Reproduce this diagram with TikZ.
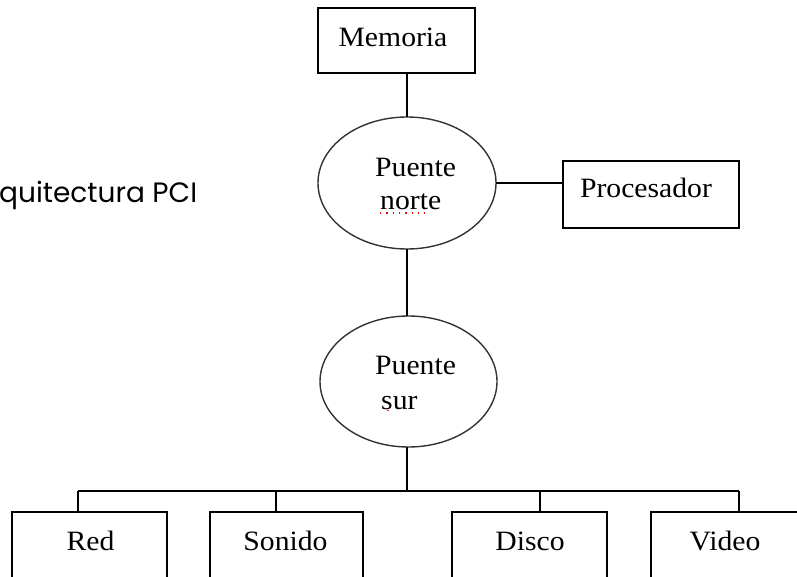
\documentclass[tikz,border=0pt]{standalone}
\usepackage{fontspec}
\setmainfont{Liberation Serif}[FakeStretch=1.06]
\newfontfamily\titlefont{Poppins}
\usetikzlibrary{shapes.geometric}
\begin{document}
\begin{tikzpicture}[x=1pt,y=-1pt,
  box/.style={draw,rectangle,line width=1.3pt,inner sep=0pt,outer sep=0pt},
  bridge/.style={draw=black!80,ellipse,line width=1.4pt,inner sep=0pt,outer sep=0pt,
    minimum width=178pt,minimum height=132pt},
  lbl/.style={anchor=base,inner sep=0pt,font=\fontsize{28}{30}\selectfont},
  wire/.style={line width=1.3pt},
  spell/.style={red,line width=1.3pt,dash pattern=on 1.3pt off 5pt}]
\useasboundingbox (0,0) rectangle (797,577);
\clip (0,0) rectangle (797,577);

% heading, cut at the left edge
\node[anchor=base west,inner sep=0pt,font=\titlefont\fontsize{28}{30}\selectfont] (title) at (-1,203) {quitectura PCI};

% memory and processor
\node[box,minimum width=157pt,minimum height=65pt] (mem) at (396.5,40.5) {};
\node[lbl] (memt) at (393,47) {Memoria};
\node[box,minimum width=176pt,minimum height=67pt] (proc) at (651,194.5) {};
\node[lbl] (proct) at (646,198) {Procesador};

% north and south bridges
\node[bridge] (north) at (407,183) {};
\node[lbl,anchor=base west] (northa) at (375,177) {Puente};
\node[lbl,anchor=base west] (northb) at (380,210) {norte};
\node[bridge,minimum width=177pt,minimum height=131pt] (south) at (408.5,381.5) {};
\node[lbl,anchor=base west] (southa) at (375,374) {Puente};
\node[lbl,anchor=base west] (southb) at (381,409) {sur};

% spell-check marks under the bridge labels
\draw[spell] (northb.base west) ++(0,3) coordinate (sq1) -- ++(49,0) coordinate (sq2);
\fill[red] (388,410.5) circle (0.8pt);

% peripherals
\node[box,minimum width=155pt,minimum height=100pt] (red) at (89.5,562) {};
\node[lbl] (redt) at (90.5,550) {Red};
\node[box,minimum width=153pt,minimum height=100pt] (snd) at (286.5,562) {};
\node[lbl] (sndt) at (285.5,550) {Sonido};
\node[box,minimum width=155pt,minimum height=100pt] (dsk) at (529.5,562) {};
\node[lbl] (dskt) at (530,550) {Disco};
\node[box,minimum width=155pt,minimum height=100pt] (vid) at (728.5,562) {};
\node[lbl] (vidt) at (725,550) {Video};

% bus taps
\coordinate (bus) at (407,491);
\coordinate (tRed) at (78,491);
\coordinate (tSnd) at (276,491);
\coordinate (tDsk) at (540,491);
\coordinate (tVid) at (739,491);

% connectors
\draw[wire] (north.north |- mem.south) -- (north.north);
\draw[wire] (north.east) -- (north.east -| proc.west);
\draw[wire] (north.south) -- (north.south |- south.north);
\draw[wire] (bus |- south.south) -- (bus);
\draw[wire] (tRed) -- (tVid);
\draw[wire] (tRed) -- (tRed |- red.north);
\draw[wire] (tSnd) -- (tSnd |- snd.north);
\draw[wire] (tDsk) -- (tDsk |- dsk.north);
\draw[wire] (tVid) -- (tVid |- vid.north);
\end{tikzpicture}
\end{document}
